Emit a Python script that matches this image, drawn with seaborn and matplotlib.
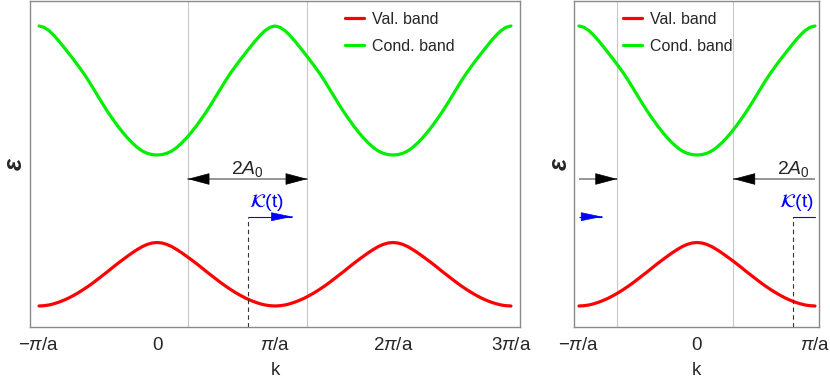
import numpy as np
import pandas as pd
import matplotlib
matplotlib.use("Agg")
import matplotlib.pyplot as plt
import seaborn as sns

# ---- data (k in units of pi/a, energy in arbitrary units) ----
k_step = 1 / 24
# half period, k = 0 .. pi/a
cond_half = [1.720, 1.724, 1.737, 1.760, 1.795, 1.839, 1.890, 1.948, 2.010,
             2.079, 2.150, 2.227, 2.307, 2.388, 2.468, 2.542, 2.610, 2.676,
             2.739, 2.801, 2.862, 2.917, 2.965, 2.997, 3.010]
val_half = [0.845, 0.840, 0.826, 0.804, 0.775, 0.743, 0.708, 0.672, 0.635,
            0.596, 0.556, 0.518, 0.480, 0.442, 0.407, 0.374, 0.343, 0.315,
            0.289, 0.267, 0.248, 0.232, 0.220, 0.213, 0.210]

tick_pos_left = [-1, 0, 1, 2, 3]
tick_lab_left = [r"$-\pi/\mathrm{a}$", "0", r"$\pi/\mathrm{a}$", r"$2\pi/\mathrm{a}$", r"$3\pi/\mathrm{a}$"]
tick_pos_right = [-1, 0, 1]
tick_lab_right = [r"$-\pi/\mathrm{a}$", "0", r"$\pi/\mathrm{a}$"]

K_left = 0.767      # K(t) in the extended zone picture
K_right = 0.816     # K(t) in the reduced zone picture
A0 = 0.507          # half width of the 2A0 window
drift = 0.38        # length of the blue K(t) arrow
y_A0 = 1.48         # height of the 2A0 arrow
y_K = 1.103         # height of the K(t) arrow

# one period (k = -1 .. 1), bands are symmetric and 2pi/a periodic
cond_period = cond_half[::-1] + cond_half[1:-1]
val_period = val_half[::-1] + val_half[1:-1]
cond_full = cond_period * 2 + [cond_half[-1]]
val_full = val_period * 2 + [val_half[-1]]
k_full = -1 + k_step * np.arange(len(cond_full))

df = pd.concat([
    pd.DataFrame({"k": k_full, "E": val_full, "band": "Val. band"}),
    pd.DataFrame({"k": k_full, "E": cond_full, "band": "Cond. band"}),
])
df_right = df[(df["k"] >= -1 - 1e-9) & (df["k"] <= 1 + 1e-9)]

palette = {"Val. band": "#ff0000", "Cond. band": "#00ee00"}

# ---- style ----
sns.set_theme(style="white")
plt.rcParams["font.family"] = ["Liberation Sans", "DejaVu Sans"]
plt.rcParams["mathtext.fontset"] = "custom"
plt.rcParams["mathtext.rm"] = "Liberation Sans"
plt.rcParams["mathtext.it"] = "Liberation Sans:italic"
plt.rcParams["mathtext.bf"] = "Liberation Sans:bold"

fig = plt.figure(figsize=(8.3, 3.79), dpi=100)
ax1 = fig.add_axes([29.6 / 830, 52 / 379, 490.8 / 830, 326 / 379])
ax2 = fig.add_axes([574 / 830, 52 / 379, 245 / 830, 326 / 379])

gray_line = "#c8c8c8"
spine_col = "#8a8a8a"


def style_axes(ax, xlim, ticks, labels):
    ax.set_xlim(*xlim)
    ax.set_ylim(0, 3.26)
    ax.set_xticks(ticks)
    ax.set_xticklabels(labels)
    ax.set_yticks([])
    ax.tick_params(axis="x", direction="in", length=4, width=0.8, color=spine_col,
                   labelsize=13.5, pad=7)
    for s in ax.spines.values():
        s.set_color(spine_col)
        s.set_linewidth(1.0)
    ax.set_xlabel("k", fontsize=13.5, labelpad=6)
    ax.set_ylabel("ε", fontsize=18, fontweight="bold", fontstyle="italic",
                  labelpad=2)


def arrow(ax, x0, x1, y, line_col, head_col, lw, hl, hw):
    # shaft in its own colour, then a filled head at x1
    ax.plot([x0, x1], [y, y], color=line_col, lw=lw, solid_capstyle="butt")
    d = 0.002 if x1 > x0 else -0.002
    ax.annotate("", xy=(x1, y), xytext=(x1 - d, y),
                arrowprops=dict(arrowstyle=f"-|>,head_length={hl},head_width={hw}",
                                ec=head_col, fc=head_col, lw=0.5,
                                shrinkA=0, shrinkB=0))


# ---- left panel: extended zone ----
for x in (K_left - A0, K_left + A0):
    ax1.axvline(x, color=gray_line, lw=0.8, zorder=0)
sns.lineplot(data=df, x="k", y="E", hue="band", palette=palette, lw=2.3,
             ax=ax1, sort=False, estimator=None)
style_axes(ax1, (-1.08, 3.08), tick_pos_left, tick_lab_left)

arrow(ax1, K_left, K_left + A0, y_A0, "#8c8c8c", "black", 1.3, 1.2, 0.32)
arrow(ax1, K_left, K_left - A0, y_A0, "#8c8c8c", "black", 1.3, 1.2, 0.32)
ax1.text(K_left, y_A0 + 0.05, r"$2A_0$", ha="center", va="baseline", fontsize=14)
arrow(ax1, K_left, K_left + drift, y_K, "blue", "blue", 0.8, 1.15, 0.24)
ax1.plot([K_left, K_left], [0, y_K], color="#333333", lw=0.8, ls=(0, (4, 3)))
ax1.text(K_left + 0.01, y_K + 0.1, r"$\mathcal{K}$(t)", color="blue", fontsize=14,
         ha="left", va="baseline", math_fontfamily="stix")

# ---- right panel: reduced zone ----
for x in (K_right - A0, K_right + A0 - 2):
    ax2.axvline(x, color=gray_line, lw=0.8, zorder=0)
sns.lineplot(data=df_right, x="k", y="E", hue="band", palette=palette, lw=2.3,
             ax=ax2, sort=False, estimator=None)
style_axes(ax2, (-1.042, 1.034), tick_pos_right, tick_lab_right)

arrow(ax2, 1, K_right - A0, y_A0, "#8c8c8c", "black", 1.3, 1.2, 0.32)
arrow(ax2, -1, K_right + A0 - 2, y_A0, "#8c8c8c", "black", 1.3, 1.2, 0.32)
ax2.text(K_right, y_A0 + 0.05, r"$2A_0$", ha="center", va="baseline", fontsize=14)
ax2.plot([K_right, 1], [y_K, y_K], color="blue", lw=0.8)
arrow(ax2, -1, -1 + drift - (1 - K_right), y_K, "blue", "blue", 0.8, 1.15, 0.24)
ax2.plot([K_right, K_right], [0, y_K], color="#333333", lw=0.8, ls=(0, (4, 3)))
ax2.text(0.99, y_K + 0.1, r"$\mathcal{K}$(t)", color="blue", fontsize=14,
         ha="right", va="baseline", math_fontfamily="stix")

for ax, xa in ((ax1, 0.643), (ax2, 0.2)):
    leg = ax.legend(loc="upper left", bbox_to_anchor=(xa, 0.966), frameon=False,
                    fontsize=11.5, handlelength=1.2, handletextpad=0.5,
                    labelspacing=0.75, borderpad=0, borderaxespad=0)
    for h in leg.get_lines():
        h.set_linewidth(2.3)

fig.savefig("out.png", dpi=100)
